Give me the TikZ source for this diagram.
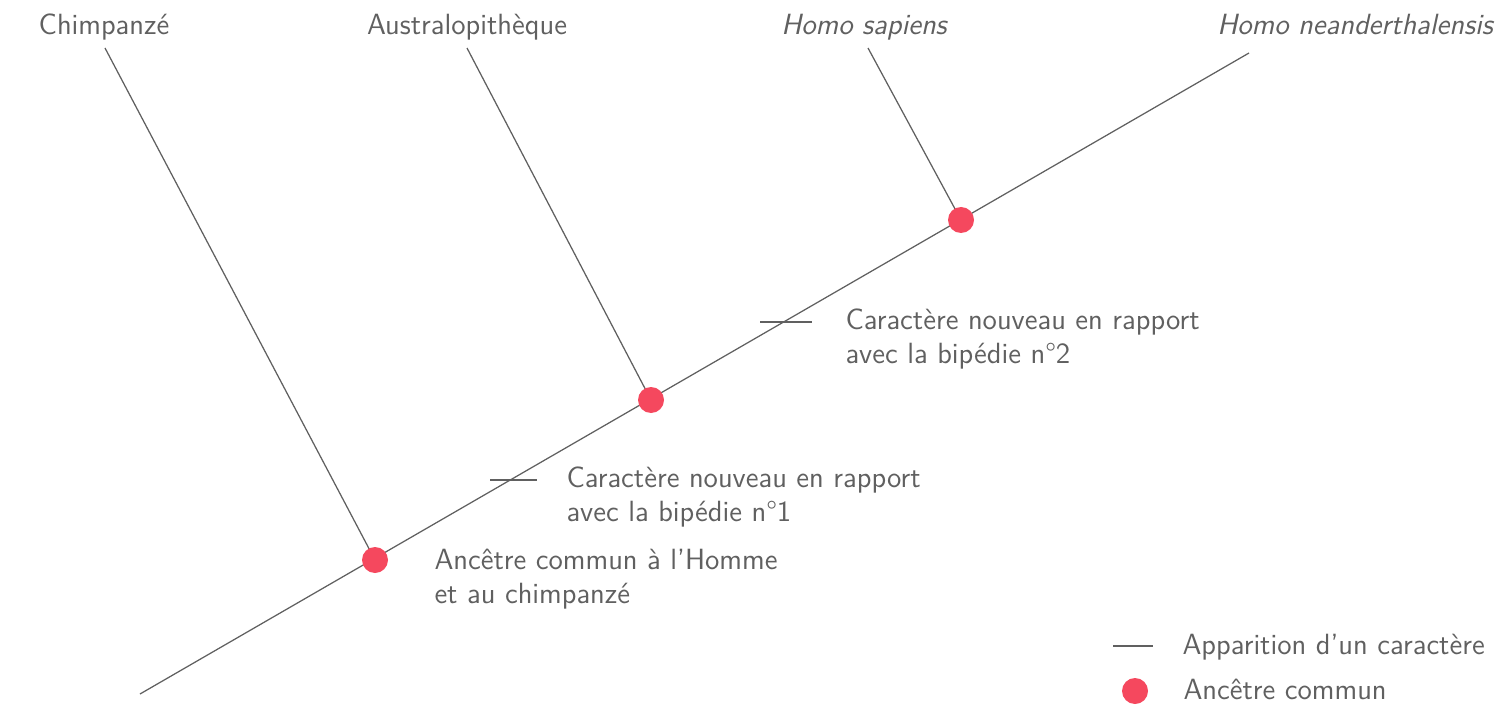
\documentclass[tikz,border=0pt]{standalone}
\usepackage{fontspec}
\usepackage{tikz}
\usetikzlibrary{positioning,calc}
\definecolor{txtgray}{HTML}{606060}
\definecolor{dotred}{HTML}{F5485E}

\begin{document}
\begin{tikzpicture}[
    x=0.4pt, y=-0.4pt,
    every node/.style={font=\sffamily\fontsize{11.7}{13.6}\selectfont, text=txtgray},
    branch/.style={draw=txtgray, line width=0.5pt},
    ancestor/.style={circle, fill=dotred, minimum size=10.4pt, inner sep=0pt},
    note/.style={anchor=base west, inner sep=0pt, align=left},
    species/.style={anchor=base, inner sep=0pt}
]
    \useasboundingbox (0,0) rectangle (1507,719);

    % --- Species at the top ---
    \node[species] (chimp) at (104,35) {Chimpanzé};
    \node[species] (austr) at (467,35) {Australopithèque};
    \node[species] (sapiens) at (864,35) {\itshape Homo sapiens};
    \node[species] (neand) at (1355,35) {\itshape Homo neanderthalensis};

    % --- Tree ---
    \coordinate (root) at (140,694);
    \coordinate (tipN) at (1249,53);
    \coordinate (tipC) at (105,48);
    \coordinate (tipA) at (467,48);
    \coordinate (tipS) at (868,48);
    \draw[branch] (root) -- (tipN);
    \draw[branch] (tipC) -- (375,560);
    \draw[branch] (tipA) -- (651,400);
    \draw[branch] (tipS) -- (961,220);

    % --- Common ancestors ---
    \node[ancestor] (anc1) at (375,560) {};
    \node[ancestor] (anc2) at (651,400) {};
    \node[ancestor] (anc3) at (961,220) {};

    % --- New characters ---
    \coordinate (c1a) at (490,480);
    \coordinate (c1b) at (537,480);
    \coordinate (c2a) at (760,322);
    \coordinate (c2b) at (812,322);
    \draw[branch] (c1a) -- (c1b);
    \draw[branch] (c2a) -- (c2b);

    % --- Notes ---
    \node[note] (n1) at (566,521) {Caractère nouveau en rapport\\avec la bipédie n°1};
    \node[note] (n2) at (845,363) {Caractère nouveau en rapport\\avec la bipédie n°2};
    \node[note] (n0) at (434,603) {Ancêtre commun à l'Homme\\et au chimpanzé};

    % --- Legend ---
    \coordinate (lga) at (1113,646);
    \coordinate (lgb) at (1153,646);
    \draw[branch] (lga) -- (lgb);
    \node[note] (lgtxt1) at (1182,654) {Apparition d'un caractère};
    \node[ancestor] (lgdot) at (1135,691) {};
    \node[note] (lgtxt2) at (1183,699) {Ancêtre commun};
\end{tikzpicture}
\end{document}
